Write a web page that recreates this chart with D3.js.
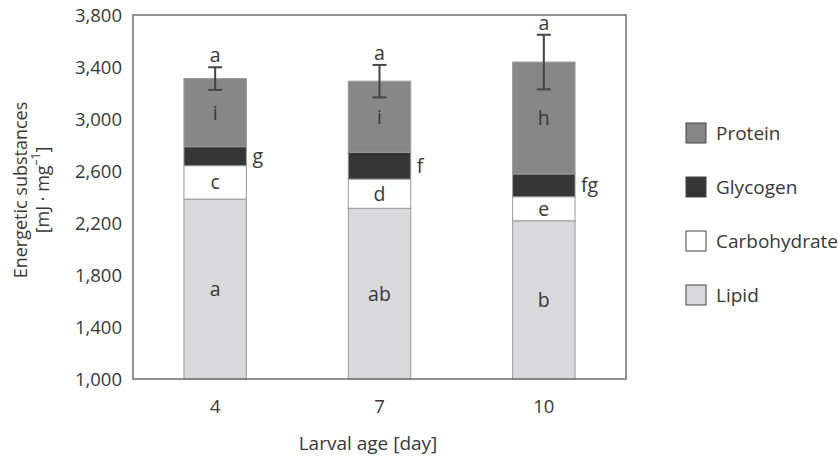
<!DOCTYPE html>
<html>
<head>
<meta charset="utf-8">
<script src="https://cdn.jsdelivr.net/npm/d3@7"></script>
<style>
  body { margin: 0; background: #fff; }
  text { font-family: "Open Sans", "Noto Sans", sans-serif; fill: #383838; }
</style>
</head>
<body>
<div id="chart"></div>
<script>
// Data (segment sizes, stacked bottom to top)
var ages = ["4", "7", "10"];
var series = ["Lipid", "Carbohydrate", "Glycogen", "Protein"];
var lipid = [2384, 2313, 2217];
var carbohydrate = [257, 225, 185];
var glycogen = [146, 206, 175];
var protein = [524, 547, 861];
var totalError = [87, 125, 210];
var yTicks = [1000, 1400, 1800, 2200, 2600, 3000, 3400, 3800];

// Significance letters
var lipidLetters = ["a", "ab", "b"];
var carbLetters = ["c", "d", "e"];
var glycogenLetters = ["g", "f", "fg"];
var proteinLetters = ["i", "i", "h"];
var totalLetters = ["a", "a", "a"];

var width = 838, height = 457;
var margin = { top: 15, right: 212, bottom: 78, left: 133 };
var plotW = width - margin.left - margin.right;
var plotH = height - margin.top - margin.bottom;

var colors = {
    "Protein": "#878787",
    "Glycogen": "#363636",
    "Carbohydrate": "#ffffff",
    "Lipid": "#d9d9db"
};

var rows = ages.map(function(a, i) {
    return { age: a, Lipid: lipid[i], Carbohydrate: carbohydrate[i], Glycogen: glycogen[i], Protein: protein[i] };
});
var stacked = d3.stack().keys(series)(rows);

var svg = d3.select("#chart").append("svg")
    .attr("width", width)
    .attr("height", height);

var g = svg.append("g")
    .attr("transform", "translate(" + margin.left + "," + margin.top + ")");

var x = d3.scaleBand()
    .domain(ages)
    .range([0, plotW])
    .paddingInner(0.62)
    .paddingOuter(0.31);

var y = d3.scaleLinear()
    .domain([1000, 3800])
    .range([plotH, 0])
    .clamp(true);

// bars (clamped scale keeps the lipid part inside the plot, axis starts at 1000)
var layers = g.append("g")
    .selectAll(".layer")
    .data(stacked)
    .enter().append("g")
    .attr("class", "layer")
    .style("fill", function(d) { return colors[d.key]; });

layers.selectAll("rect")
    .data(function(d) { return d; })
    .enter().append("rect")
    .attr("x", function(d) { return x(d.data.age); })
    .attr("width", x.bandwidth())
    .attr("y", function(d) { return y(d[1]); })
    .attr("height", function(d) { return y(d[0]) - y(d[1]); })
    .style("stroke", "#9a9a9a")
    .style("stroke-width", 1);

// frame
g.append("rect")
    .attr("width", plotW)
    .attr("height", plotH)
    .style("fill", "none")
    .style("stroke", "#6e6e6e")
    .style("stroke-width", 1.5);

// y axis
var yAxis = d3.axisLeft(y)
    .tickValues(yTicks)
    .tickSize(0)
    .tickPadding(11)
    .tickFormat(d3.format(","));

var ya = g.append("g").call(yAxis);
ya.select(".domain").remove();
ya.selectAll("text").style("font-size", "18.5px").attr("dy", "0.36em");

// x axis
var xAxis = d3.axisBottom(x).tickSize(0).tickPadding(21);
var xa = g.append("g").attr("transform", "translate(0," + plotH + ")").call(xAxis);
xa.select(".domain").remove();
xa.selectAll("text").style("font-size", "18.5px");

// error bars on totals
var topLayer = stacked[stacked.length - 1];
var cx = function(d) { return x(d.data.age) + x.bandwidth() / 2; };

var eb = g.selectAll(".err")
    .data(topLayer)
    .enter().append("g")
    .attr("class", "err")
    .style("stroke", "#444")
    .style("stroke-width", 2);

eb.append("line")
    .attr("x1", cx)
    .attr("x2", cx)
    .attr("y1", function(d, i) { return y(d[1] + totalError[i]); })
    .attr("y2", function(d, i) { return y(d[1] - totalError[i]); });

[1, -1].forEach(function(s) {
    eb.append("line")
        .attr("x1", function(d) { return cx(d) - 7; })
        .attr("x2", function(d) { return cx(d) + 7; })
        .attr("y1", function(d, i) { return y(d[1] + s * totalError[i]); })
        .attr("y2", function(d, i) { return y(d[1] + s * totalError[i]); });
});

// letters inside the segments
function segLetters(layerIdx, letters, side) {
    g.selectAll(".lt" + layerIdx)
        .data(stacked[layerIdx])
        .enter().append("text")
        .attr("x", function(d) {
            return side ? x(d.data.age) + x.bandwidth() + 6 : cx(d);
        })
        .attr("y", function(d) { return (y(d[0]) + y(d[1])) / 2; })
        .attr("dy", "0.36em")
        .attr("text-anchor", side ? "start" : "middle")
        .style("font-size", "19.5px")
        .text(function(d, i) { return letters[i]; });
}
segLetters(0, lipidLetters, false);
segLetters(1, carbLetters, false);
segLetters(2, glycogenLetters, true);
segLetters(3, proteinLetters, false);

g.selectAll(".tot")
    .data(topLayer)
    .enter().append("text")
    .attr("x", cx)
    .attr("y", function(d, i) { return y(d[1] + totalError[i]) - 5; })
    .attr("text-anchor", "middle")
    .style("font-size", "19.5px")
    .text(function(d, i) { return totalLetters[i]; });

// axis titles
var yt = svg.append("text")
    .attr("transform", "translate(27,190) rotate(-90)")
    .attr("text-anchor", "middle")
    .style("font-size", "18px");
yt.append("tspan").attr("x", 0).attr("y", 0).text("Energetic substances");
var l2 = yt.append("tspan").attr("x", 0).attr("y", 22);
l2.append("tspan").text("[mJ · mg");
l2.append("tspan").attr("dy", -9).style("font-size", "12px").text("–1");
l2.append("tspan").attr("dy", 9).text("]");

svg.append("text")
    .attr("x", 368)
    .attr("y", 450)
    .attr("text-anchor", "middle")
    .style("font-size", "19px")
    .text("Larval age [day]");

// legend
var legendKeys = ["Protein", "Glycogen", "Carbohydrate", "Lipid"];
var legend = svg.selectAll(".legend")
    .data(legendKeys)
    .enter().append("g")
    .attr("class", "legend")
    .attr("transform", function(d, i) { return "translate(686," + (123 + i * 54) + ")"; });

legend.append("rect")
    .attr("width", 20)
    .attr("height", 20)
    .style("fill", function(d) { return colors[d]; })
    .style("stroke", "#444")
    .style("stroke-width", 1);

legend.append("text")
    .attr("x", 30)
    .attr("y", 10)
    .attr("dy", "0.36em")
    .style("font-size", "19px")
    .text(function(d) { return d; });
</script>
</body>
</html>
